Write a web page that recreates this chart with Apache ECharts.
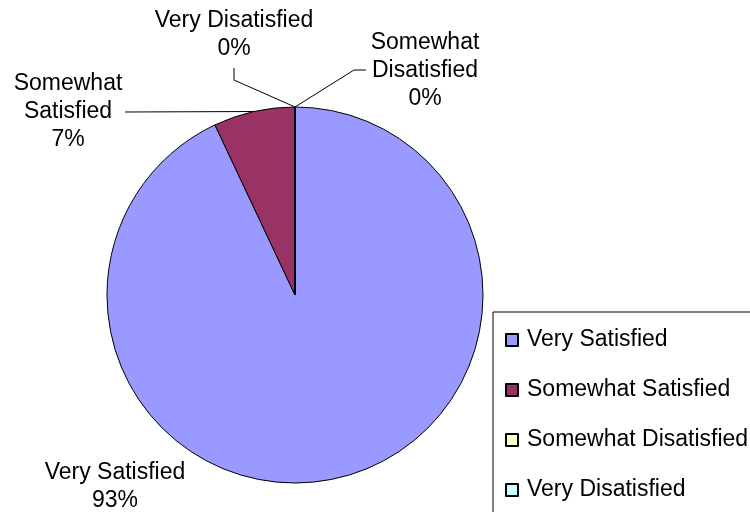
<!DOCTYPE html>
<html>
<head>
<meta charset="utf-8">
<script src="https://cdn.jsdelivr.net/npm/echarts@6/dist/echarts.min.js"></script>
<style>
html,body{margin:0;padding:0;background:#fff;}
#chart{width:750px;height:512px;}
</style>
</head>
<body>
<div id="chart"></div>
<script>
// Data
const categories = ["Very Satisfied", "Somewhat Satisfied", "Somewhat Disatisfied", "Very Disatisfied"];
const values = [93, 7, 0, 0];
const colors = ["#9999FF", "#993366", "#FFFFCC", "#CCFFFF"];

// Label layout (positions of the text blocks and leader-line bends)
const labelCenters = [[115, 487], [68, 112], [425, 71], [234, 35]];
const lineBends = [null, [[125, 112]], [[354, 70], [366, 70]], [[234, 80], [234, 68]]];

const chart = echarts.init(document.getElementById('chart'), null, {renderer: 'canvas'});
const FONT = 'Liberation Sans, Arial, sans-serif';

const data = categories.map((name, i) => ({
  name: name,
  value: values[i],
  itemStyle: {color: colors[i]},
  labelLine: {show: i !== 0}
}));

chart.setOption({
  animation: false,
  backgroundColor: '#fff',
  legend: {
    orient: 'vertical',
    left: 493,
    top: 312,
    height: 400,
    padding: [16, 60, 40, 12],
    itemGap: 26,
    itemWidth: 12,
    itemHeight: 12,
    icon: 'rect',
    borderColor: '#000',
    borderWidth: 1,
    selectedMode: false,
    textStyle: {fontFamily: FONT, fontSize: 23, color: '#000', lineHeight: 24, padding: [0, 0, 0, 4]},
    data: categories
  },
  series: [{
    type: 'pie',
    center: [295, 295],
    radius: 188,
    startAngle: 90,
    clockwise: true,
    avoidLabelOverlap: false,
    silent: true,
    emphasis: {disabled: true},
    itemStyle: {borderColor: '#000', borderWidth: 1},
    label: {
      show: true,
      position: 'outside',
      fontFamily: FONT,
      fontSize: 23,
      lineHeight: 28,
      color: '#000',
      align: 'center',
      formatter: function (p) {
        return p.name.replace('Somewhat ', 'Somewhat\n') + '\n' + Math.round(p.percent) + '%';
      }
    },
    labelLine: {show: true, lineStyle: {color: '#000', width: 1}},
    labelLayout: function (params) {
      const i = params.dataIndex;
      const c = labelCenters[i];
      const res = {x: c[0], y: c[1], align: 'center', verticalAlign: 'middle', moveOverlap: false, hideOverlap: false};
      if (lineBends[i]) {
        const start = (params.labelLinePoints && params.labelLinePoints[0]) || [295, 107];
        const pts = [start].concat(lineBends[i]);
        if (pts.length === 2) pts.push(lineBends[i][0]);
        res.labelLinePoints = pts;
      }
      return res;
    },
    data: data
  }]
});
</script>
</body>
</html>
